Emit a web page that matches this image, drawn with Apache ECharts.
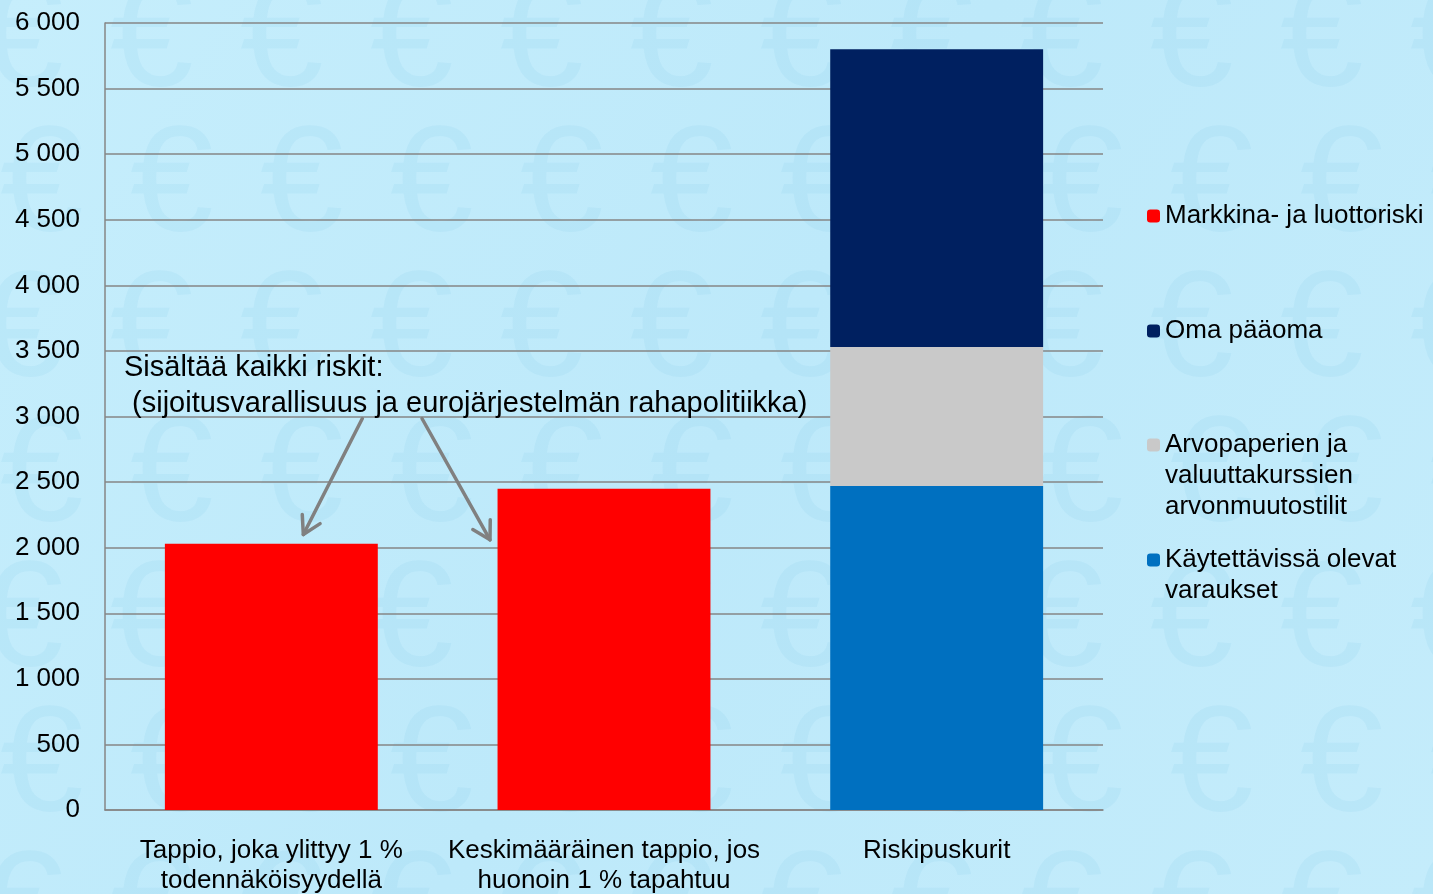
<!DOCTYPE html>
<html>
<head>
<meta charset="utf-8">
<script src="https://cdn.jsdelivr.net/npm/echarts@6/dist/echarts.min.js"></script>
<style>
  html, body { margin: 0; padding: 0; }
  #chart { width: 1433px; height: 894px; }
</style>
</head>
<body>
<div id="chart"></div>
<script>
// data
const categories = [
  'Tappio, joka ylittyy 1 %\ntodennäköisyydellä',
  'Keskimääräinen tappio, jos\nhuonoin 1 % tapahtuu',
  'Riskipuskurit'
];
const seriesNames = [
  'Markkina- ja luottoriski',
  'Oma pääoma',
  'Arvopaperien ja\nvaluuttakurssien\narvonmuutostilit',
  'Käytettävissä olevat\nvaraukset'
];
const marketRisk = [2030, 2450, '-'];
const provisions = ['-', '-', 2470];
const revaluation = ['-', '-', 1060];
const equity = ['-', '-', 2270];
const yMin = 0, yMax = 6000, yStep = 500;

const FONT = '"Liberation Sans", Arial, sans-serif';
const LEGEND_LH = 31;

const chart = echarts.init(document.getElementById('chart'));

// faint euro pattern behind the plot
const euros = [];
for (let row = 0; row < 7; row++) {
  for (let col = 0; col < 12; col++) {
    euros.push({
      type: 'text',
      z: -10,
      silent: true,
      x: col * 130 - 20 + (row % 2) * 20,
      y: row * 145 - 30,
      style: {
        text: '€',
        font: '150px ' + FONT,
        fill: 'rgba(110,190,230,0.11)'
      }
    });
  }
}

function thousands(v) {
  return String(v).replace(/\B(?=(\d{3})+(?!\d))/g, ' ');
}

// one legend per entry so the spacing can follow the original;
// blank lines in front keep the marker beside the first text line
function legendAt(name, iconCenter) {
  const lines = name.split('\n').length;
  return {
    data: [name],
    left: 1147,
    top: iconCenter - (2 * lines - 1) * LEGEND_LH / 2,
    orient: 'vertical',
    padding: 0,
    itemWidth: 13,
    itemHeight: 13,
    selectedMode: false,
    formatter: n => '\n'.repeat(lines - 1) + n,
    textStyle: {
      fontFamily: FONT,
      fontSize: 26,
      lineHeight: LEGEND_LH,
      color: '#000'
    }
  };
}

chart.setOption({
  backgroundColor: {
    type: 'linear', x: 0, y: 0, x2: 1, y2: 1,
    colorStops: [
      { offset: 0, color: '#c6eefc' },
      { offset: 0.5, color: '#bde9fa' },
      { offset: 1, color: '#c4ecfb' }
    ]
  },
  animation: false,
  grid: { left: 105, right: 330, top: 23, bottom: 84, outerBoundsMode: 'none' },
  legend: [
    legendAt(seriesNames[0], 216),
    legendAt(seriesNames[1], 331),
    legendAt(seriesNames[2], 445),
    legendAt(seriesNames[3], 560)
  ],
  xAxis: {
    type: 'category',
    data: categories,
    axisTick: { show: false },
    axisLine: { lineStyle: { color: '#868686', width: 1.5 } },
    axisLabel: {
      color: '#000',
      fontFamily: FONT,
      fontSize: 26,
      lineHeight: 30,
      margin: 26,
      interval: 0
    }
  },
  yAxis: {
    type: 'value',
    min: yMin,
    max: yMax,
    interval: yStep,
    axisLine: { show: true, lineStyle: { color: '#868686', width: 1.5 } },
    axisTick: { show: false },
    splitLine: { lineStyle: { color: '#868686', width: 1.5 } },
    axisLabel: {
      color: '#000',
      fontFamily: FONT,
      fontSize: 26,
      margin: 25,
      formatter: thousands
    }
  },
  series: [
    {
      name: seriesNames[0], type: 'bar', stack: 'total', barCategoryGap: '36%',
      data: marketRisk, itemStyle: { color: '#ff0000' }
    },
    {
      name: seriesNames[3], type: 'bar', stack: 'total',
      data: provisions, itemStyle: { color: '#0070c0' }
    },
    {
      name: seriesNames[2], type: 'bar', stack: 'total',
      data: revaluation, itemStyle: { color: '#c9c9c9' }
    },
    {
      name: seriesNames[1], type: 'bar', stack: 'total',
      data: equity, itemStyle: { color: '#002060' }
    }
  ]
});

// annotation text and arrows, anchored to the axes
function arrow(from, to) {
  const ang = Math.atan2(to[1] - from[1], to[0] - from[0]);
  const len = 20, spread = Math.PI / 6;
  const a = [to[0] - len * Math.cos(ang - spread), to[1] - len * Math.sin(ang - spread)];
  const b = [to[0] - len * Math.cos(ang + spread), to[1] - len * Math.sin(ang + spread)];
  const style = { stroke: '#808080', lineWidth: 3.5, lineCap: 'round', lineJoin: 'round', fill: null };
  return [
    { type: 'line', shape: { x1: from[0], y1: from[1], x2: to[0], y2: to[1] }, style: style, z: 5 },
    { type: 'polyline', shape: { points: [a, to, b] }, style: style, z: 5 }
  ];
}

const c0 = chart.convertToPixel({ gridIndex: 0 }, [0, 3000]);
const c1 = chart.convertToPixel({ gridIndex: 0 }, [1, 3000]);
const e0 = chart.convertToPixel({ gridIndex: 0 }, [0, 2100]);
const e1 = chart.convertToPixel({ gridIndex: 0 }, [1, 2060]);

chart.setOption({
  graphic: euros.concat([
    {
      type: 'text',
      z: 5,
      x: 124,
      y: 350,
      style: {
        text: 'Sisältää kaikki riskit:\n (sijoitusvarallisuus ja eurojärjestelmän rahapolitiikka)',
        font: '29px ' + FONT,
        lineHeight: 36,
        fill: '#000'
      }
    }
  ]).concat(
    arrow([c0[0] + 91, c0[1] + 2], [e0[0] + 32, e0[1]]),
    arrow([c1[0] - 182, c1[1] + 2], [e1[0] - 114, e1[1]])
  )
});
</script>
</body>
</html>
